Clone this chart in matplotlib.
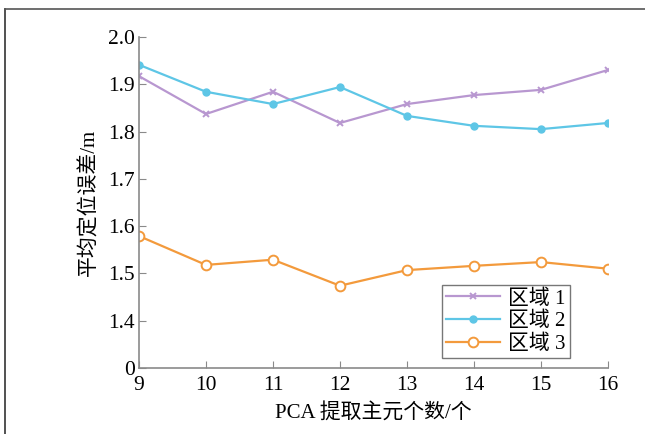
import matplotlib.pyplot as plt
from matplotlib.lines import Line2D

plt.rcParams['font.family'] = ['Liberation Serif', 'Noto Sans CJK SC']

n_pc = [9, 10, 11, 12, 13, 14, 15, 16]
area1 = [1.917, 1.837, 1.884, 1.818, 1.858, 1.877, 1.888, 1.930]
area2 = [1.941, 1.884, 1.858, 1.894, 1.833, 1.812, 1.805, 1.818]
area3 = [1.579, 1.518, 1.529, 1.474, 1.507, 1.516, 1.524, 1.510]
yticks = [1.3, 1.4, 1.5, 1.6, 1.7, 1.8, 1.9, 2.0]
ytick_labels = ["0", "1.4", "1.5", "1.6", "1.7", "1.8", "1.9", "2.0"]

fig = plt.figure(figsize=(6.45, 4.34), dpi=100)
ax = fig.add_axes([0.2155, 0.152, 0.727, 0.763])

ax.plot(n_pc, area1, "-x", color="#b897d0", lw=1.6, ms=5, mew=1.4, label="区域 1")
ax.plot(n_pc, area2, "-o", color="#5ec6e6", lw=1.6, ms=5, label="区域 2")
ax.plot(n_pc, area3, "-o", color="#f39a3c", lw=1.6, ms=7, mfc="white", mew=1.4,
        label="区域 3")

ax.set_xlim(9, 16)
ax.set_ylim(1.3, 2.0)
ax.set_xticks(n_pc)
ax.set_yticks(yticks)
ax.set_yticklabels(ytick_labels)
for s in ("top", "right"):
    ax.spines[s].set_visible(False)
for s in ("left", "bottom"):
    ax.spines[s].set_color("#8a8a8a")
    ax.spines[s].set_linewidth(1.2)
ax.tick_params(direction="in", length=5, color="#8a8a8a", labelsize=15.5, pad=3)
ax.tick_params(axis="x", pad=6)

ax.set_xlabel("PCA 提取主元个数/个", fontsize=15, labelpad=5)
ax.set_ylabel("平均定位误差/m", fontsize=15, labelpad=6)

leg = ax.legend(loc="lower right", bbox_to_anchor=(0.919, 0.03), fontsize=15,
                frameon=True, fancybox=False, handlelength=2.6, borderpad=0.2,
                labelspacing=0.15, handletextpad=0.4, borderaxespad=0)
leg.get_frame().set_edgecolor("#555555")
leg.get_frame().set_linewidth(1.0)

# outer frame of the figure panel
fig.add_artist(Line2D([0.008, 0.008], [0.0, 0.979], color="#333333", lw=1.2))
fig.add_artist(Line2D([0.008, 1.0], [0.979, 0.979], color="#555555", lw=1.2))

fig.savefig("out.png", dpi=100)
